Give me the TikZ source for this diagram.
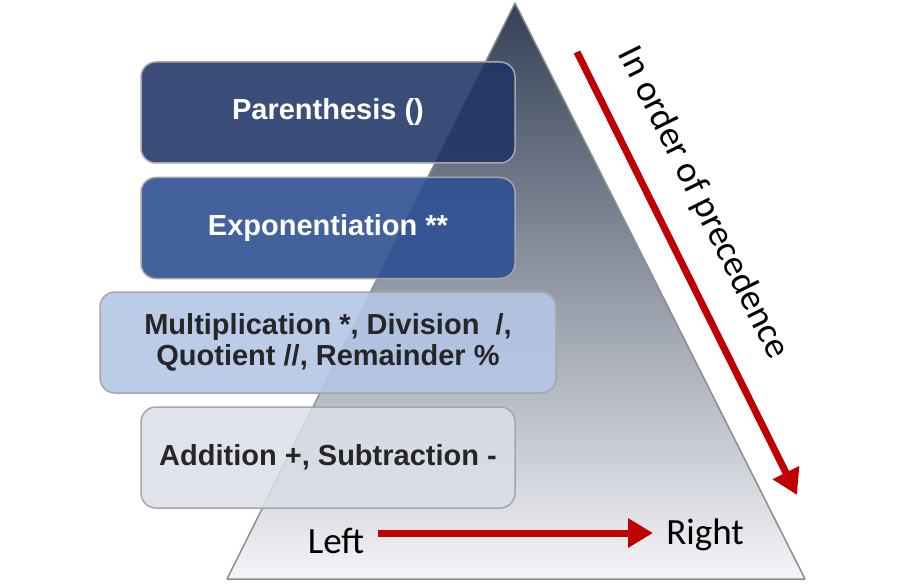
\documentclass[tikz,border=0pt]{standalone}
\usepackage{fontspec}
\setmainfont{Liberation Sans}
\newfontfamily\calfont{Carlito}
\usetikzlibrary{arrows.meta}
\definecolor{boxA}{HTML}{1F3566}
\definecolor{boxB}{HTML}{2E5092}
\definecolor{boxC}{HTML}{B4C6E7}
\definecolor{boxD}{HTML}{DADEE6}
\definecolor{edgegray}{HTML}{A6A6A6}
\definecolor{trigray}{HTML}{8C8C8C}
\definecolor{arrowred}{HTML}{C00000}
\definecolor{darktext}{HTML}{262626}
\tikzset{
  x=1pt, y=-1pt,
  levelbox/.style={draw=edgegray, line width=1.5pt, rounded corners=15pt,
    minimum height=101pt, align=center, font=\fontsize{29}{31}\selectfont\bfseries,
    inner sep=0pt},
  redarrow/.style={draw=arrowred, line width=7pt,
    -{Triangle[length=25pt,width=28pt]}},
  sidetext/.style={font=\calfont\fontsize{37}{40}\selectfont, text=black, inner sep=0pt}
}
\begin{document}
\begin{tikzpicture}
\useasboundingbox (0,0) rectangle (904,585);
% triangle
\coordinate (apex) at (515,3);
\coordinate (bl) at (227,579);
\coordinate (br) at (805,579);
\shade[top color={rgb,255:red,52;green,64;blue,86}, bottom color={rgb,255:red,244;green,245;blue,248}]
  (apex) -- (br) -- (bl) -- cycle;
\draw[trigray, line width=1.5pt, line join=round] (apex) -- (br) -- (bl) -- cycle;
% boxes
\node[levelbox, fill=boxA, fill opacity=0.88, text opacity=1, text=white, minimum width=374pt] (paren) at (328,112.5) {Parenthesis ()};
\node[levelbox, fill=boxB, fill opacity=0.9, text opacity=1, text=white, minimum width=374pt] (expo) at (328,228) {Exponentiation **};
\node[levelbox, fill=boxC, fill opacity=0.9, text opacity=1, text=darktext, minimum width=456pt] (mult) at (328,342.5) {Multiplication *, Division\ \ /,\\Quotient //, Remainder \%};
\node[levelbox, fill=boxD, fill opacity=0.85, text opacity=1, text=darktext, minimum width=374pt] (add) at (328,457.5) {Addition +, Subtraction -};
% precedence arrow
\coordinate (pstart) at (577,52);
\coordinate (pend) at (797,495);
\draw[redarrow] (pstart) -- (pend);
\node[sidetext, rotate=-63.6] (prec) at (703,203) {In order of precedence};
% left-right arrow
\node[sidetext, anchor=center] (left) at (336,541) {Left};
\node[sidetext, anchor=center] (right) at (705,535) {Right};
\coordinate (lstart) at (378,533);
\coordinate (lend) at (653,533);
\draw[redarrow] (lstart) -- (lend);
\end{tikzpicture}
\end{document}
